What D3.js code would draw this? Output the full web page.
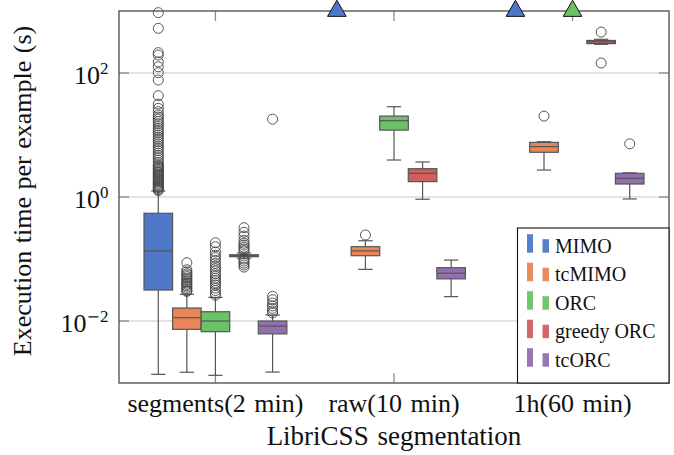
<!DOCTYPE html>
<html>
<head>
<meta charset="utf-8">
<script src="https://cdn.jsdelivr.net/npm/d3@7"></script>
<style>
  body { margin: 0; background: #fff; }
  text { font-family: "Liberation Serif", "Times New Roman", serif; fill: #111; }
</style>
</head>
<body>
<svg id="chart" width="674" height="455"></svg>
<script>
const groups = ["segments(2 min)", "raw(10 min)", "1h(60 min)"];
const methods = ["MIMO", "tcMIMO", "ORC", "greedy ORC", "tcORC"];
const colors = ["#4e79c8", "#e8865a", "#6cc266", "#d06060", "#9270b0"];

// [lower whisker, q1, median, q3, upper whisker] per method; null = off the top of the axis
const segmentsStats = [
  [0.00138, 0.0316, 0.135, 0.546, 1.25],
  [0.00149, 0.00734, 0.0113, 0.0162, 0.027],
  [0.00133, 0.00673, 0.01, 0.0141, 0.024],
  [0.103, 0.109, 0.113, 0.117, 0.125],
  [0.0015, 0.0062, 0.0083, 0.01, 0.0125]
];
const rawStats = [
  null,
  [0.068, 0.113, 0.135, 0.158, 0.197],
  [3.95, 12.0, 17.0, 20.2, 28.6],
  [0.92, 1.77, 2.41, 2.86, 3.67],
  [0.0247, 0.0478, 0.059, 0.0725, 0.096]
];
const hourStats = [
  null,
  [2.72, 5.26, 6.5, 7.6, 7.8],
  null,
  [290, 298, 318, 335, 350],
  [0.93, 1.62, 2.0, 2.41, 2.45]
];

const segmentsOutliers = [
  [940, 525, 213, 195, 151, 126, 101, 77, 43, 31.6, 26.9, 23.8, 21, 19.5, 18, 16.5, 15.2, 14,
   12.8, 11.8, 10.9, 10, 9.2, 8.5, 7.8, 7.2, 6.6, 6.1, 5.6, 5.1, 4.7, 4.3, 3.95, 3.6, 3.3, 3.15,
   3.05, 2.9, 2.8, 2.65, 2.55, 2.45, 2.35, 2.25, 2.15, 2.05, 1.98, 1.9, 1.82, 1.75, 1.67, 1.6,
   1.54, 1.48, 1.42, 1.38, 1.32, 1.27],
  [0.087, 0.067, 0.062, 0.058, 0.055, 0.052, 0.049, 0.046, 0.043, 0.041, 0.039, 0.037, 0.035,
   0.033, 0.031, 0.03],
  [0.183, 0.158, 0.13, 0.115, 0.105, 0.095, 0.085, 0.077, 0.07, 0.064, 0.058, 0.053, 0.049,
   0.045, 0.041, 0.038, 0.034, 0.031, 0.028, 0.026],
  [0.32, 0.27, 0.235, 0.2, 0.18, 0.168, 0.155, 0.145, 0.135, 0.1, 0.093, 0.086, 0.08, 0.074],
  [18, 0.025, 0.022, 0.0195, 0.0175, 0.016, 0.0145, 0.0135]
];
const rawOutliers = [[], [0.244], [], [], []];
const hourOutliers = [[], [20.2], [], [458, 145], [7.2]];

const yTicks = [1e-2, 1, 1e2];
const yTickExp = ["−2", "0", "2"];

const stats = [segmentsStats, rawStats, hourStats];
const outliers = [segmentsOutliers, rawOutliers, hourOutliers];

var svg = d3.select("#chart");
var pLeft = 119, pRight = 669, pTop = 11, pBottom = 383;

var x = d3.scaleBand()
  .domain(groups)
  .range([pLeft, pRight])
  .paddingInner(0)
  .paddingOuter(0.04);

var xm = d3.scaleBand()
  .domain(methods)
  .range([-0.4 * x.step(), 0.4 * x.step()]);

var y = d3.scaleLog()
  .domain([1e-3, 1e3])
  .range([pBottom, pTop]);

var color = d3.scaleOrdinal().domain(methods).range(colors);

// grid
svg.append("g").selectAll("line")
  .data(yTicks)
  .enter().append("line")
  .attr("x1", pLeft).attr("x2", pRight)
  .attr("y1", d => y(d)).attr("y2", d => y(d))
  .attr("stroke", "#dadada")
  .attr("stroke-width", 1.5);

// ticks, inward on all four sides
var tickG = svg.append("g").attr("stroke", "#8c8c8c").attr("stroke-width", 1.3);
yTicks.forEach(t => {
  tickG.append("line").attr("x1", pLeft).attr("x2", pLeft + 10).attr("y1", y(t)).attr("y2", y(t));
  tickG.append("line").attr("x1", pRight - 10).attr("x2", pRight).attr("y1", y(t)).attr("y2", y(t));
});
groups.forEach(g => {
  var cx = x(g) + x.bandwidth() / 2;
  tickG.append("line").attr("x1", cx).attr("x2", cx).attr("y1", pTop).attr("y2", pTop + 10);
  tickG.append("line").attr("x1", cx).attr("x2", cx).attr("y1", pBottom - 10).attr("y2", pBottom);
});

// boxes
var lineCol = "#555";
groups.forEach((g, gi) => {
  var cx0 = x(g) + x.bandwidth() / 2;
  methods.forEach((m, mi) => {
    var s = stats[gi][mi];
    var cx = cx0 + xm(m) + xm.bandwidth() / 2;
    var w = xm.bandwidth();
    var bg = svg.append("g").attr("stroke", lineCol).attr("stroke-width", 1.2);
    if (s) {
      bg.append("line").attr("x1", cx).attr("x2", cx).attr("y1", y(s[0])).attr("y2", y(s[1]));
      bg.append("line").attr("x1", cx).attr("x2", cx).attr("y1", y(s[3])).attr("y2", y(s[4]));
      bg.append("line").attr("x1", cx - w / 4).attr("x2", cx + w / 4).attr("y1", y(s[0])).attr("y2", y(s[0]));
      bg.append("line").attr("x1", cx - w / 4).attr("x2", cx + w / 4).attr("y1", y(s[4])).attr("y2", y(s[4]));
      bg.append("rect")
        .attr("x", cx - w / 2).attr("width", w)
        .attr("y", y(s[3])).attr("height", y(s[1]) - y(s[3]))
        .attr("fill", color(m));
      bg.append("line").attr("x1", cx - w / 2).attr("x2", cx + w / 2).attr("y1", y(s[2])).attr("y2", y(s[2]));
    }
    bg.selectAll("circle")
      .data(outliers[gi][mi])
      .enter().append("circle")
      .attr("cx", cx).attr("cy", d => y(d)).attr("r", 5)
      .attr("fill", "none")
      .attr("stroke", "#444")
      .attr("stroke-width", 0.9);
  });
});

// frame
svg.append("rect")
  .attr("x", pLeft).attr("y", pTop)
  .attr("width", pRight - pLeft).attr("height", pBottom - pTop)
  .attr("fill", "none")
  .attr("stroke", "#4a4a4a")
  .attr("stroke-width", 1.3);

// off-scale runs drawn as triangles on the top edge
groups.forEach((g, gi) => {
  methods.forEach((m, mi) => {
    if (stats[gi][mi]) return;
    var cx = x(g) + x.bandwidth() / 2 + xm(m) + xm.bandwidth() / 2;
    svg.append("path")
      .attr("d", d3.symbol().type(d3.symbolTriangle).size(150)())
      .attr("transform", `translate(${cx},${y(1e3)})`)
      .attr("fill", color(m))
      .attr("stroke", "#111")
      .attr("stroke-width", 1);
  });
});

// y tick labels
svg.append("g").selectAll("text")
  .data(yTicks)
  .enter().append("text")
  .attr("x", pLeft - 10.5)
  .attr("y", d => y(d) + 11)
  .attr("text-anchor", "end")
  .attr("font-size", 26)
  .each(function(d, i) {
    var t = d3.select(this);
    t.append("tspan").text("10");
    var e = yTickExp[i];
    var sup = t.append("tspan").attr("dy", -10).attr("font-size", 17);
    if (e[0] === "−") {
      sup.append("tspan").attr("font-family", "DejaVu Serif").attr("font-size", 16).text("−");
      sup.append("tspan").text(e.slice(1));
    } else {
      sup.text(e);
    }
  });

// x tick labels
svg.append("g").selectAll("text")
  .data(groups)
  .enter().append("text")
  .attr("x", d => x(d) + x.bandwidth() / 2)
  .attr("y", 412)
  .attr("text-anchor", "middle")
  .attr("font-size", 26)
  .attr("word-spacing", 2)
  .text(d => d);

svg.append("text")
  .attr("x", (pLeft + pRight) / 2)
  .attr("y", 445)
  .attr("text-anchor", "middle")
  .attr("font-size", 27)
  .attr("word-spacing", 2)
  .text("LibriCSS segmentation");

svg.append("text")
  .attr("transform", "translate(31,191) rotate(-90)")
  .attr("text-anchor", "middle")
  .attr("font-size", 26)
  .attr("word-spacing", 1)
  .text("Execution time per example (s)");

// legend
var lg = svg.append("g");
lg.append("rect")
  .attr("x", 517.5).attr("y", 228)
  .attr("width", pRight - 517.5).attr("height", pBottom - 228)
  .attr("fill", "#fff")
  .attr("stroke", "#111")
  .attr("stroke-width", 1.1);
methods.forEach((m, i) => {
  var base = 252.7 + i * 28.5;
  lg.append("rect").attr("x", 527).attr("y", base - 18.5).attr("width", 6).attr("height", 18.5)
    .attr("fill", color(m)).attr("opacity", 0.95);
  lg.append("rect").attr("x", 542.5).attr("y", base - 13.5).attr("width", 6.5).attr("height", 13.5)
    .attr("fill", color(m)).attr("opacity", 0.95);
  lg.append("text")
    .attr("x", 555).attr("y", base)
    .attr("font-size", 20)
    .text(m);
});
</script>
</body>
</html>
